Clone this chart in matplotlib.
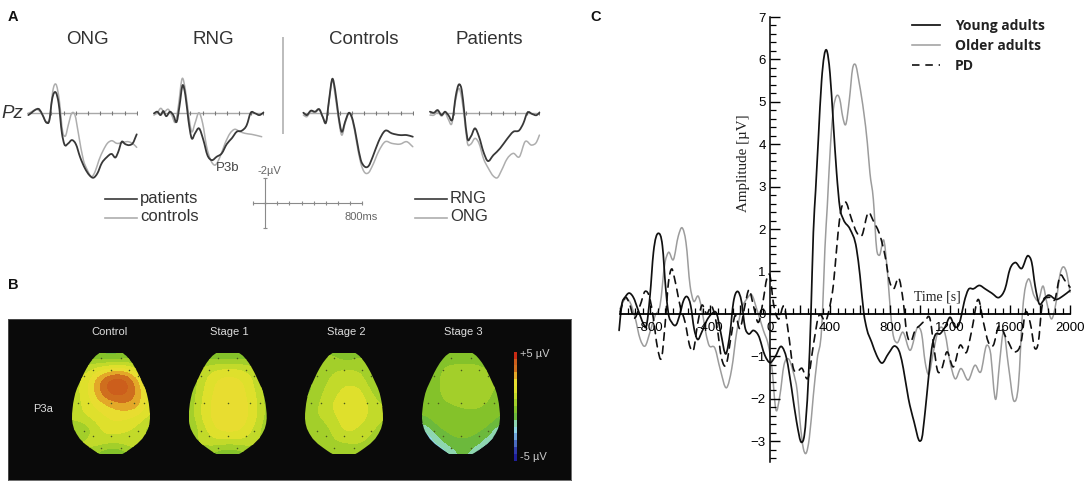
import numpy as np
import matplotlib
matplotlib.use("Agg")
import matplotlib.pyplot as plt
from matplotlib.colors import ListedColormap, BoundaryNorm
from matplotlib.lines import Line2D
from matplotlib.patches import Polygon, PathPatch
from matplotlib.path import Path
from matplotlib.ticker import MultipleLocator, FixedLocator, FixedFormatter

W, H = 1084, 486
plt.rcParams['font.family'] = ['Liberation Sans', 'DejaVu Sans']

# ---------- Panel A data: (ms, uV; negative is drawn upward) ----------
ong_pat_t = [-90,-63,-36,0,27,60,82,104,137,159,186,205,238,266,301,334,375,411,444,477,512,553,595,627,649,677,704,740,767,800]
ong_pat_v = [.19,0,-.21,-.27,.19,.8,.64,-1.01,-1.6,-.75,1.65,2.5,2.45,2.19,2.53,3.52,4.45,4.99,5.2,4.85,4.05,3.57,3.3,3.57,3.12,2.32,2.5,2.59,2.45,1.73]
ong_con_t = [-90,-63,-22,19,60,88,110,137,164,192,214,238,266,293,321,362,395,430,458,490,526,559,595,636,677,732,773,800]
ong_con_v = [.05,-.08,-.27,.05,.72,.32,-1.68,-2.27,-1.01,1.52,1.87,.99,.05,.19,1.65,3.79,4.59,5.12,4.72,3.79,2.99,2.45,2.24,2.45,2.4,2.32,2.51,2.77]

rng_pat_t = [-99,-71,-44,-22,0,33,60,88,110,137,159,184,211,238,271,307,340,375,416,458,499,540,581,622,663,696,732,767,800]
rng_pat_v = [.05,-.08,.19,-.13,.27,-.08,.19,.72,-.48,-2.21,-1.41,.59,2.05,1.65,1.25,2.19,3.39,3.79,3.52,3.25,2.51,2.05,1.52,1.44,.99,0,.05,.19,0]
rng_con_t = [-99,-71,-44,-16,19,47,79,101,134,159,184,211,238,271,301,334,367,403,444,485,526,562,608,649,704,786]
rng_con_v = [.19,0,-.35,-.08,-.27,.19,.72,-.48,-2.75,-1.81,.05,1.52,.85,0,.85,2.72,3.79,4.19,3.52,2.45,1.65,1.33,1.52,1.65,1.73,1.92]

ctl_rng_t = [-99,-71,-38,-3,33,60,88,112,140,162,189,216,244,277,307,340,373,400,436,471,518,573,627,696,751,800]
ctl_rng_v = [0,.19,-.16,-.08,-.27,.32,.75,-1.01,-2.72,-1.81,.19,1.52,.72,0,.59,2.19,3.79,4.27,4.27,3.52,2.32,1.44,1.65,1.79,1.79,1.92]
ctl_ong_v = [.19,.32,-.08,0,-.21,.37,.8,-.88,-2.61,-1.41,.45,1.79,.85,.05,.72,2.45,4.05,4.72,4.8,4.19,3.12,2.32,2.45,2.51,2.32,2.72]

pat_rng_t = [-99,-66,-36,-3,25,52,88,112,140,162,184,208,236,271,304,340,373,422,477,532,586,636,668,701,742,778,800]
pat_rng_v = [-.08,0,-.21,.19,-.08,.19,.45,-1.28,-2.27,-1.81,.05,2.05,1.92,1.25,1.92,3.12,3.84,3.39,2.85,2.13,1.52,1.39,.85,0,.11,.19,0]
pat_ong_t = [-99,-66,-36,-3,25,52,79,112,140,162,184,208,236,271,304,340,381,422,455,490,532,586,636,682,737,778,800]
pat_ong_v = [.19,.19,-.08,.27,0,.53,.91,-1.01,-1.95,-1.15,.45,2.4,2.51,2.05,2.45,3.65,4.45,5.07,5.2,4.59,3.73,3.25,3.52,2.32,2.59,2.32,1.79]

time_ticks = [100,200,300,400,500,600,700,800]
scale_x = [-100,0,100,200,300,400,500,600,700,800]
scale_y = [-2,0,2]

# ---------- Panel B data ----------
map_titles = ['Control', 'Stage 1', 'Stage 2', 'Stage 3']
grid_x = [-1,-.67,-.33,0,.33,.67,1]
grid_y = [0,.125,.25,.375,.5,.625,.75,.875,1]
control_vals = [
 [-.6,-.6,-1.0,-1.2,-1.0,-.6,-.6],
 [.8,.8,1.2,1.6,1.5,.7,.6],
 [.9,1.5,3.2,4.3,4.3,2.4,.8],
 [.9,1.6,3.2,4.3,4.0,2.9,1.0],
 [.8,1.5,2.1,2.6,3.0,2.8,1.1],
 [1.0,1.2,1.6,2.0,2.0,1.6,1.0],
 [-.6,.0,1.2,1.6,1.2,1.0,-.2],
 [.8,.9,1.1,.6,1.0,1.0,.8],
 [.5,.5,-.7,-1.2,-.7,.5,.5]]
stage1_vals = [
 [-.5,-.5,-.8,-.8,-.8,-.5,-.5],
 [.7,.7,1.0,1.2,1.0,.7,.7],
 [.0,1.0,2.0,2.2,2.0,1.0,.0],
 [.0,1.3,2.1,2.2,2.1,1.3,.0],
 [.1,1.5,2.2,2.2,2.2,1.5,.1],
 [.1,1.5,2.2,2.2,2.2,1.5,.1],
 [-.1,.9,2.0,2.2,2.0,.9,-.1],
 [.6,.7,1.0,.7,1.0,.7,.6],
 [.3,.3,-.7,-1.0,-.7,.3,.3]]
stage2_vals = [
 [-.3,-.3,.0,-.8,-.2,-.3,-.3],
 [.3,.3,.5,.6,.5,.4,.3],
 [-.3,.4,.7,1.0,.9,.1,-.3],
 [-.4,.5,.9,1.6,1.6,.6,-.4],
 [.3,.6,1.4,1.7,1.7,1.1,.6],
 [.5,.6,1.0,1.7,1.7,1.0,.6],
 [-.2,.2,.6,1.5,1.1,.6,.3],
 [.3,.3,.5,.7,.7,.4,.3],
 [.2,.2,.1,-.5,.1,.2,.2]]
stage3_vals = [
 [-.5,-.5,-.6,-.8,-.6,-.5,-.5],
 [-.3,-.3,.2,.2,.2,-.3,-.3],
 [-.4,-.2,.5,.7,.7,.5,-.2],
 [-.5,-.2,.4,.5,.5,.2,-.5],
 [-.5,-.2,-.1,.0,.1,-.1,-.5],
 [-.6,-.3,-.2,-.1,-.2,-.2,-.7],
 [-2.2,-.7,-.5,-.5,-.5,-.7,-2.2],
 [-3,-1.9,-.7,-.7,-.7,-1.9,-3],
 [-3,-3,-2.4,-.7,-2.4,-3,-3]]
elec_x = [-.25,.25,-.47,0,.46,-.68,.68,-.85,-.6,0,.58,.84,-.68,.68,-.47,0,.46,-.25,.25]
elec_y = [.056,.056,.174,.174,.174,.23,.23,.5,.5,.5,.5,.5,.77,.77,.82,.82,.82,.944,.944]
egg_y = [0,.01,.03,.06,.1,.15,.2,.25,.3,.35,.4,.45,.5,.55,.6,.65,.7,.75,.8,.85,.9,.94,.97,.99,1]
egg_w = [.28,.32,.39,.46,.54,.62,.69,.75,.81,.87,.915,.945,.97,.985,.998,1,.985,.95,.885,.8,.67,.53,.42,.34,.29]
band_colors = ['#1f1f9a','#2f3aa8','#4a6cc0','#6fa6dc','#8fd6e6','#8ed6b0','#6cb93c','#84c22a',
               '#a3cf2a','#c2da2a','#dfe02c','#e8dd30','#e3a828','#cf6e1e','#cc5e1c','#c82a14']
band_edges = [-5,-4.375,-3.75,-3.125,-2.5,-1.875,-1.25,-.625,0,.625,1.25,1.875,2.5,3.125,3.75,4.375,5]

# ---------- Panel C data ----------
young_t = [-1006,-989,-966,-940,-911,-878,-844,-826,-800,-777,-744,-717,-695,-677,-655,-626,-600,-577,-555,-529,-506,-484,-455,-422,-389,-355,-329,-293,-266,-244,-218,-189,-167,-144,-111,-77,-34,0,33,77,111,144,177,211,229,255,273,289,304,322,344,377,400,422,444,466,489,533,577,600,626,645,678,711,745,789,834,867,889,923,960,1000,1011,1034,1056,1078,1100,1134,1167,1200,1234,1262,1278,1294,1322,1356,1396,1434,1478,1529,1567,1600,1634,1678,1722,1745,1767,1796,1822,1849,1911,1956,2000]
young_v = [-.39,.2,.39,.49,.39,.08,-.23,-.31,.43,1.45,1.9,1.6,.59,0,-.2,-.26,0,.31,.41,.2,-.35,-.6,-.43,-.16,0,0,-.43,-.94,-.43,.27,.53,.27,-.31,-.47,-.39,-.51,-.98,-1.15,-1.02,-.77,-1.06,-1.76,-2.54,-3.03,-2.86,-1.6,0,1.92,2.9,4.1,5.5,6.22,5.67,4.5,3.33,2.5,2.23,2.0,1.53,.9,0,-.35,-.67,-.98,-1.16,-.94,-.76,-.94,-1.29,-2,-2.54,-3.0,-2.95,-2.31,-1.53,-.82,-.51,-.47,-.31,-.08,-.31,-.23,0,.27,.57,.59,.67,.59,.49,.39,.59,1.06,1.21,1.07,1.37,1.21,.67,.23,.31,.43,.34,.43,.55]
older_t = [-1000,-966,-933,-900,-866,-833,-800,-766,-733,-700,-677,-644,-611,-586,-560,-533,-511,-477,-455,-433,-411,-366,-333,-289,-255,-222,-189,-155,-122,-89,-44,-11,11,40,66,93,122,155,182,200,222,240,262,289,315,344,351,366,382,404,422,444,466,484,504,529,551,569,595,626,649,666,689,711,729,760,783,800,818,845,885,934,989,1011,1034,1056,1089,1122,1167,1200,1234,1271,1322,1367,1405,1445,1467,1507,1529,1556,1589,1627,1656,1685,1722,1760,1789,1822,1845,1878,1907,1934,1978,2000]
older_v = [.12,.35,.27,-.08,-.59,-.76,-.43,-.04,.2,1.21,1.45,1.28,1.84,2.03,1.68,.67,.31,.41,.12,-.35,-.7,-.82,-1.29,-1.74,-1.29,-.43,.12,.35,.45,.12,-.39,-.74,-1.2,-2.27,-1.92,-1.21,-1.06,-1.37,-1.84,-2.54,-3.17,-3.29,-2.93,-1.92,-1.06,-.35,.12,1.53,2.54,4.03,4.81,5.14,5.05,4.66,4.46,5.05,5.79,5.88,5.44,4.73,4.03,3.33,2.7,1.53,1.38,1.72,.98,.2,-.43,-.68,-.43,-.86,-.31,-.47,-1.13,-1.43,-.9,-.39,-.47,-1.13,-1.53,-1.29,-1.56,-1.21,-1.37,-.74,-.86,-2,-1.21,-.43,-1.21,-2.06,-1.68,.12,.82,.43,.31,.65,.27,-.12,.27,.94,.96,.51]
pd_t = [-1000,-966,-933,-911,-866,-833,-800,-777,-751,-722,-700,-677,-655,-633,-600,-566,-533,-511,-484,-455,-422,-389,-355,-322,-293,-262,-233,-200,-167,-140,-111,-77,-44,-22,0,22,56,96,122,156,178,211,256,289,322,378,400,422,444,466,500,544,578,611,656,689,734,767,796,822,862,889,911,938,967,1000,1034,1067,1094,1116,1145,1178,1222,1267,1311,1345,1389,1423,1456,1489,1522,1578,1634,1678,1700,1734,1767,1789,1811,1856,1900,1934,1967,2000]
pd_v = [.04,.39,.2,-.08,.2,.53,.35,-.12,-.78,-1.02,-.27,.74,1.06,.78,.2,-.2,-.78,-.86,-.27,.2,0,.18,-.27,-1.06,-1.21,-.59,-.04,-.35,.2,.57,.2,-.2,.35,.82,.9,.27,-.12,.16,-.43,-1.29,-1.37,-1.28,-1.49,-.74,-.08,-.12,.2,.67,1.53,2.3,2.64,2.23,1.92,1.84,2.39,2.19,1.84,1.37,.78,.59,.82,.27,-.43,-.65,-.39,-.27,-.16,-.12,-.82,-1.33,-1.29,-.9,-1.25,-.74,-.9,-.39,.34,-.2,-.67,-.74,-.31,-.59,-.9,-.59,0,-.2,-.82,-.67,.12,.39,.35,.9,.78,.63]
xtick_labels = ['-800','','-400','','0','','400','','800','','1200','','1600','','2000']

# ---------- helpers ----------
fig = plt.figure(figsize=(W/100, H/100), dpi=100, facecolor='white')

def px_axes(x0, y0, x1, y1, **kw):
    return fig.add_axes([x0/W, 1-y1/H, (x1-x0)/W, (y1-y0)/H], **kw)

def label(x, y, s, **kw):
    kw.setdefault('ha', 'center'); kw.setdefault('va', 'center')
    return fig.text(x/W, 1-y/H, s, **kw)

def curve(ax, t, v, **kw):
    """Draw a read series as one smooth path through its points, in data coordinates."""
    t = np.asarray(t, float); v = np.asarray(v, float)
    m = np.gradient(v, t)
    verts = [(t[0], v[0])]
    codes = [Path.MOVETO]
    for i in range(len(t)-1):
        d = (t[i+1]-t[i])/3
        verts += [(t[i]+d, v[i]+m[i]*d), (t[i+1]-d, v[i+1]-m[i+1]*d), (t[i+1], v[i+1])]
        codes += [Path.CURVE4]*3
    p = PathPatch(Path(verts, codes), fill=False, clip_on=False, capstyle='round', joinstyle='round', **kw)
    ax.add_patch(p)
    return p

def smooth_grid(vals, n=8):
    """Resample a small value grid on the map and soften it, for rounded contour bands."""
    a = np.array(vals, float)
    xs = np.linspace(grid_x[0], grid_x[-1], (len(grid_x)-1)*n+1)
    ys = np.linspace(grid_y[0], grid_y[-1], (len(grid_y)-1)*n+1)
    a = np.array([np.interp(xs, grid_x, r) for r in a])
    a = np.array([np.interp(ys, grid_y, c) for c in a.T]).T
    k = np.ones(n)/n
    for _ in range(2):
        a = np.pad(a, n, mode='edge')
        a = np.apply_along_axis(lambda r: np.convolve(r, k, mode='same'), 0, a)
        a = np.apply_along_axis(lambda r: np.convolve(r, k, mode='same'), 1, a)
        a = a[n:-n, n:-n]
    return xs, ys, a

DARK, LIGHT = '#383838', '#aeaeae'

# ---------- Panel A ----------
def erp_axes(zero_px, series):
    ax = px_axes(zero_px-12.17, 75.2, zero_px+97.4, 194)
    ax.set_xlim(-100, 800); ax.set_ylim(6.5, -3); ax.axis('off')
    ax.plot([-100, 800], [0, 0], color='#a8a8a8', lw=1, zorder=1)
    ax.plot(time_ticks, [0]*len(time_ticks), ls='', marker='|', ms=3.5, mew=.8, color='#777777', zorder=1)
    for t, v, c, lw in series:
        curve(ax, t, v, edgecolor=c, lw=lw, zorder=3 if c == DARK else 2)

erp_axes(39.3, [(ong_con_t, ong_con_v, LIGHT, 1.1), (ong_pat_t, ong_pat_v, DARK, 1.3)])
erp_axes(166, [(rng_con_t, rng_con_v, LIGHT, 1.1), (rng_pat_t, rng_pat_v, DARK, 1.3)])
erp_axes(315.4, [(ctl_rng_t, ctl_ong_v, LIGHT, 1.1), (ctl_rng_t, ctl_rng_v, DARK, 1.3)])
erp_axes(442, [(pat_ong_t, pat_ong_v, LIGHT, 1.1), (pat_rng_t, pat_rng_v, DARK, 1.3)])

for x, s in zip([87, 213, 364, 489], ['ONG', 'RNG', 'Controls', 'Patients']):
    label(x, 39.5, s, fontsize=13.5, color='#333333')
label(12, 113, 'Pz', fontsize=13.5, style='italic', color='#333333')
label(228, 168, 'P3b', fontsize=9.5, color='#444444')

# separator, scale bar
sep = px_axes(282, 37, 284, 134); sep.axis('off')
sep.axvline(.5, color='#bdbdbd', lw=1.5)
bar = px_axes(252.8, 178, 362.4, 228)
bar.set_xlim(-100, 800); bar.set_ylim(2, -2); bar.axis('off')
bar.plot(scale_x, [0]*len(scale_x), color='#8a8a8a', lw=.8, marker='|', ms=3, mew=.8, clip_on=False)
bar.plot([0]*3, scale_y, color='#8a8a8a', lw=.8, marker='_', ms=3, mew=.8, clip_on=False)
label(269, 170.5, '-2µV', fontsize=8, color='#666666')
label(361, 216.5, '800ms', fontsize=8, color='#666666')

# panel A legends
key = px_axes(0, 0, W, H); key.set_xlim(0, W); key.set_ylim(H, 0); key.axis('off'); key.patch.set_alpha(0)
for x0, x1, y, c in [(105, 137, 198.5, DARK), (105, 137, 218, LIGHT), (415, 447, 198.5, DARK), (415, 447, 218, LIGHT)]:
    key.plot([x0, x1], [y, y], color=c, lw=1.2)
label(140, 198, 'patients', fontsize=12, ha='left', color='#333333')
label(140, 216.5, 'controls', fontsize=12, ha='left', color='#333333')
label(450, 198, 'RNG', fontsize=12, ha='left', color='#333333')
label(450, 216.5, 'ONG', fontsize=12, ha='left', color='#333333')

# ---------- Panel B ----------
bg = px_axes(8, 319, 571, 480, facecolor='#0a0a0a')
bg.set_xticks([]); bg.set_yticks([])
for s in bg.spines.values():
    s.set_color('#555555'); s.set_linewidth(.6)

cmap = ListedColormap(band_colors)
norm = BoundaryNorm(band_edges, cmap.N)
for cx, title, vals in zip([111, 227.7, 344, 461], map_titles,
                           [control_vals, stage1_vals, stage2_vals, stage3_vals]):
    ax = px_axes(cx-39, 352.7, cx+39, 454)
    ax.set_xlim(-1, 1); ax.set_ylim(1, 0); ax.axis('off'); ax.patch.set_alpha(0)
    xs, ys, z = smooth_grid(vals)
    cs = ax.contourf(xs, ys, z, levels=band_edges, cmap=cmap, norm=norm)
    outline = list(zip(egg_w, egg_y)) + [(-w, y) for w, y in zip(egg_w[::-1], egg_y[::-1])]
    clip = Polygon(outline, closed=True, transform=ax.transData, fc='none', ec='none')
    ax.add_patch(clip)
    cs.set_clip_path(clip)
    ax.plot(elec_x, elec_y, ls='', marker='o', ms=1.1, color='#4a5a20', mew=0)
    label(cx-2 if title == 'Control' else cx+2, 332, title, fontsize=8, color='#dddddd')

cb = px_axes(514, 351.7, 516.6, 460.7)
cb.pcolormesh([0, 1], band_edges, np.array(band_edges[:-1])[:, None]+.01, cmap=cmap, norm=norm)
cb.axis('off')
label(520, 354, '+5 µV', fontsize=8, color='#cccccc', ha='left')
label(520, 457, '-5 µV', fontsize=8, color='#cccccc', ha='left')
label(43, 409, 'P3a', fontsize=8, color='#dddddd')

# ---------- Panel C ----------
ax = px_axes(620, 17, 1070, 462.3)
ax.set_xlim(-1000, 2000); ax.set_ylim(-3.5, 7); ax.patch.set_alpha(0)
curve(ax, older_t, older_v, edgecolor='#9c9c9c', lw=1.1)
curve(ax, pd_t, pd_v, edgecolor='#111111', lw=1.2, linestyle=(0, (4.5, 3.5)))
curve(ax, young_t, young_v, edgecolor='#111111', lw=1.25)
for s in ['top', 'right']:
    ax.spines[s].set_visible(False)
ax.spines['left'].set_position(('data', 0))
ax.spines['bottom'].set_position(('data', 0))
ax.spines['left'].set_linewidth(1.1); ax.spines['bottom'].set_linewidth(1.3)
ax.xaxis.set_major_locator(FixedLocator(list(range(-800, 2001, 200))))
ax.xaxis.set_major_formatter(FixedFormatter(xtick_labels))
ax.xaxis.set_minor_locator(MultipleLocator(50))
ax.yaxis.set_minor_locator(MultipleLocator(.2))
ax.set_yticks(range(-3, 8))
ax.tick_params(axis='x', which='major', direction='in', length=6.5, width=1, labelsize=9.5, pad=6)
ax.tick_params(axis='x', which='minor', direction='in', length=4, width=.9)
ax.tick_params(axis='y', which='major', direction='in', length=7.5, width=1, labelsize=9.5, pad=3)
ax.tick_params(axis='y', which='minor', direction='in', length=4.5, width=.9)
label(743, 163, 'Amplitude [µV]', fontsize=10.8, rotation=90, family='Liberation Serif', color='#222222')
label(937, 297, 'Time [s]', fontsize=10, family='Liberation Serif', color='#222222')

handles = [Line2D([], [], color='#111111', lw=1.25),
           Line2D([], [], color='#9c9c9c', lw=1.1),
           Line2D([], [], color='#111111', lw=1.2, dashes=(4.5, 3.5))]
ax.legend(handles, ['Young adults', 'Older adults', 'PD'], loc='upper left',
          bbox_to_anchor=(908/W, 1-15/H), bbox_transform=fig.transFigure, frameon=False,
          prop={'family': 'Open Sans', 'weight': 'bold', 'size': 10}, labelspacing=.42,
          handlelength=2.0, handletextpad=1.08, labelcolor='#222222', borderpad=.3, borderaxespad=0)

# panel letters
for x, y, s in [(13, 17, 'A'), (13, 285, 'B'), (596, 17, 'C')]:
    label(x, y, s, fontsize=10.5, weight='bold', color='#111111')

fig.savefig('out.png', dpi=100)
